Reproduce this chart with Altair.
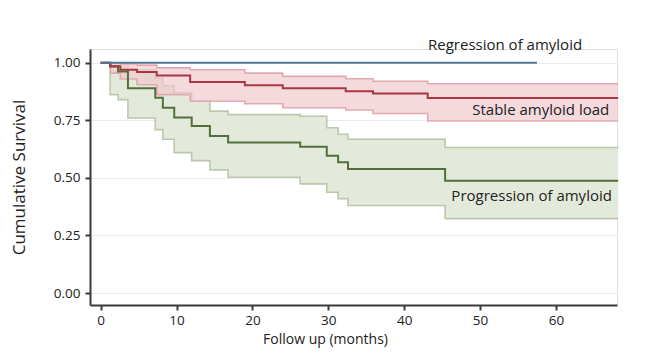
import altair as alt
import pandas as pd

# ---- data ----
# Regression of amyloid (no events)
reg_t = [0, 57.5]
reg_s = [1.0, 1.0]

# Stable amyloid load
stb_t = [0, 1.3, 2.6, 4.8, 7.4, 11.8, 19.0, 24.0, 32.3, 35.9, 43.1, 68.2]
stb_s = [1.0, 0.985, 0.97, 0.96, 0.945, 0.917, 0.903, 0.89, 0.877, 0.867, 0.847, 0.847]
stb_lo = [1.0, 0.955, 0.93, 0.905, 0.862, 0.833, 0.822, 0.805, 0.795, 0.78, 0.747, 0.747]
stb_hi = [1.0, 1.0, 0.995, 0.99, 0.978, 0.97, 0.955, 0.941, 0.931, 0.92, 0.909, 0.909]

# Progression of amyloid
prg_t = [0, 1.25, 2.3, 3.6, 7.2, 8.2, 9.7, 12.0, 14.4, 16.8, 26.3, 29.8, 31.3, 32.6, 45.4, 68.2]
prg_s = [1.0, 0.984, 0.962, 0.89, 0.848, 0.805, 0.762, 0.725, 0.682, 0.654, 0.635, 0.596, 0.568, 0.539, 0.488, 0.488]
prg_lo = [1.0, 0.862, 0.84, 0.76, 0.71, 0.668, 0.61, 0.575, 0.535, 0.503, 0.474, 0.438, 0.41, 0.38, 0.323, 0.323]
prg_hi = [1.0, 1.0, 1.0, 0.97, 0.934, 0.9, 0.87, 0.833, 0.79, 0.775, 0.768, 0.718, 0.69, 0.668, 0.632, 0.632]

label_text = ["Regression of amyloid", "Stable amyloid load", "Progression of amyloid"]
label_x = [53.3, 58.0, 56.8]
label_y = [1.077, 0.795, 0.421]

x_ticks = [0, 10, 20, 30, 40, 50, 60]
y_ticks = [0, 0.25, 0.5, 0.75, 1.0]

FONT = "Open Sans"

reg = pd.DataFrame({"t": reg_t, "s": reg_s})
stb = pd.DataFrame({"t": stb_t, "s": stb_s, "lo": stb_lo, "hi": stb_hi})
prg = pd.DataFrame({"t": prg_t, "s": prg_s, "lo": prg_lo, "hi": prg_hi})
labels = pd.DataFrame({"txt": label_text, "x": label_x, "y": label_y})

xs = alt.Scale(domain=[-1.4, 68.05], nice=False, zero=False)
ys = alt.Scale(domain=[-0.052, 1.06], nice=False, zero=False)

X = alt.X("t:Q", scale=xs, axis=alt.Axis(
    title="Follow up (months)", values=x_ticks, grid=False,
    domainColor="#3a3a3a", domainWidth=2, tickColor="#3a3a3a", tickWidth=2, tickSize=5,
    labelFont=FONT, labelFontSize=13.5, labelColor="#222", labelPadding=3,
    titleFont=FONT, titleFontSize=14, titleFontWeight="normal", titleColor="#222",
    titlePadding=6, titleX=235))
Y = alt.Y("s:Q", scale=ys, axis=alt.Axis(
    title="Cumulative Survival", values=y_ticks, format=".2f",
    grid=True, gridColor="#ececec", gridWidth=1,
    domainColor="#3a3a3a", domainWidth=2, tickColor="#3a3a3a", tickWidth=2, tickSize=5,
    labelFont=FONT, labelFontSize=13.5, labelColor="#222", labelPadding=5,
    titleFont=FONT, titleFontSize=17, titleFontWeight="normal", titleColor="#222",
    titlePadding=25))

def band(df, fill, edge, opacity):
    base = alt.Chart(df)
    area = base.mark_area(interpolate="step-after", color=fill, opacity=opacity).encode(
        x=alt.X("t:Q", scale=xs), y=alt.Y("lo:Q", scale=ys), y2="hi:Q")
    lo = base.mark_line(interpolate="step-after", color=edge, strokeWidth=1.6).encode(
        x=alt.X("t:Q", scale=xs), y=alt.Y("lo:Q", scale=ys))
    hi = base.mark_line(interpolate="step-after", color=edge, strokeWidth=1.6).encode(
        x=alt.X("t:Q", scale=xs), y=alt.Y("hi:Q", scale=ys))
    return area + lo + hi

axes = alt.Chart(reg).mark_line(opacity=0).encode(x=X, y=Y)

prg_band = band(prg, "#e4eadb", "#bcc8ac", 1.0)
stb_band = band(stb, "#f0c9cf", "#e3a9b1", 0.7)

def curve(df, color):
    return alt.Chart(df).mark_line(interpolate="step-after", color=color, strokeWidth=2).encode(
        x=alt.X("t:Q", scale=xs), y=alt.Y("s:Q", scale=ys))

prg_line = curve(prg, "#52703a")
stb_line = curve(stb, "#a8383f")
reg_line = curve(reg, "#4f7796")

text = alt.Chart(labels).mark_text(font=FONT, fontSize=15, color="#222", clip=False).encode(
    x=alt.X("x:Q", scale=xs), y=alt.Y("y:Q", scale=ys), text="txt:N")

chart = alt.layer(axes, prg_band, stb_band, prg_line, stb_line, reg_line, text).properties(
    width=527, height=256,
    autosize=alt.AutoSizeParams(type="none"),
    padding={"left": 82, "top": 41, "right": 28, "bottom": 47},
).configure_view(stroke=None).configure(background="white")

chart.save("out.html", embed_options={"renderer": "svg", "actions": False})
